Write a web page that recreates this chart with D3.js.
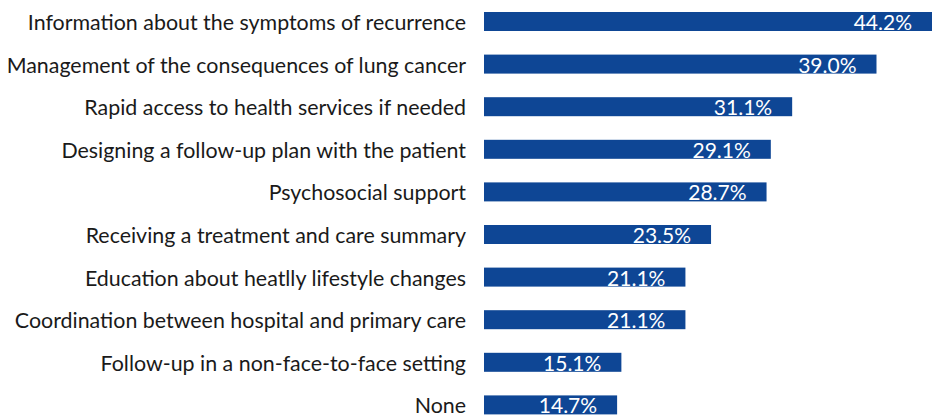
<!DOCTYPE html>
<html><head><meta charset="utf-8">
<script src="https://cdn.jsdelivr.net/npm/d3@7"></script>
<style>body{margin:0;background:#fff}svg{display:block}</style>
</head><body>
<svg id="c" width="935" height="417"></svg>
<script>
const categories = [
  "Information about the symptoms of recurrence",
  "Management of the consequences of lung cancer",
  "Rapid access to health services if needed",
  "Designing a follow-up plan with the patient",
  "Psychosocial support",
  "Receiving a treatment and care summary",
  "Education about heatlly lifestyle changes",
  "Coordination between hospital and primary care",
  "Follow-up in a non-face-to-face setting",
  "None"
];
const values = [44.2, 39.0, 31.1, 29.1, 28.7, 23.5, 21.1, 21.1, 15.1, 14.7];
const axisMin = 2.23;

const svg = d3.select("#c");
const x = d3.scaleLinear().domain([axisMin, 44.2]).range([484, 932]);
const y = d3.scaleBand().domain(categories).range([12, 414.4]).paddingInner(0.554).paddingOuter(0);
const data = categories.map((c,i)=>({c, v: values[i]}));

svg.selectAll("rect.bar").data(data).join("rect")
  .attr("class","bar")
  .attr("x", x(axisMin))
  .attr("y", d=>y(d.c))
  .attr("width", d=>x(d.v)-x(axisMin))
  .attr("height", y.bandwidth())
  .attr("fill", "#0E4695");

svg.selectAll("text.val").data(data).join("text")
  .attr("class","val")
  .attr("x", d=>x(d.v)-20)
  .attr("y", d=>y(d.c)+18)
  .attr("text-anchor","end")
  .attr("fill","#fff")
  .style("font-family","Lato, sans-serif")
  .style("font-size","21px")
  .text(d=>d.v.toFixed(1)+"%");

svg.selectAll("text.lab").data(data).join("text")
  .attr("class","lab")
  .attr("x", 466)
  .attr("y", d=>y(d.c)+18)
  .attr("text-anchor","end")
  .attr("fill","#1a1a1a")
  .style("font-family","Lato, sans-serif")
  .style("font-size","21.4px")
  .text(d=>d.c);
</script>
</body></html>
